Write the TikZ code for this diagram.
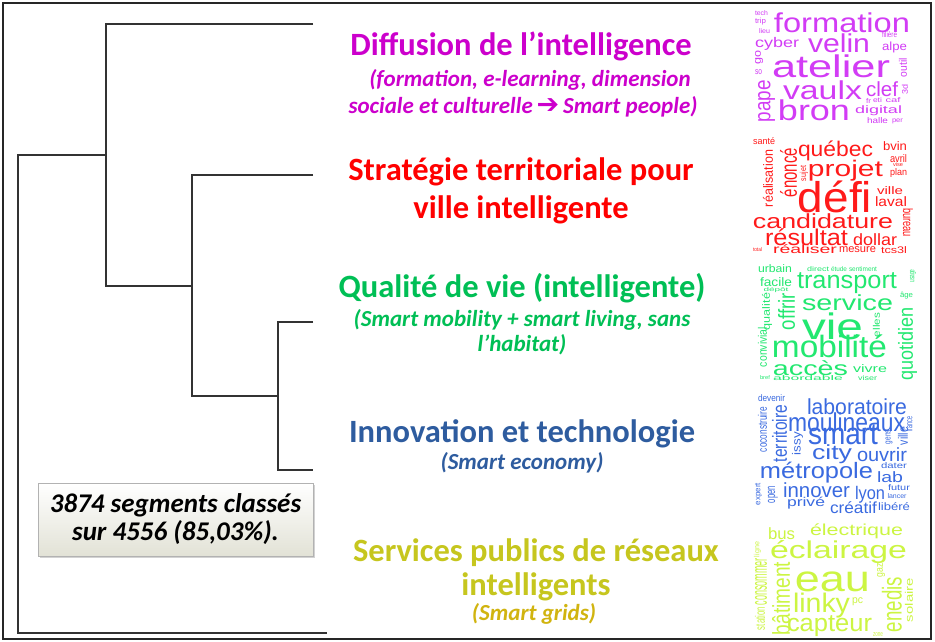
\documentclass[tikz,border=0pt]{standalone}
\usepackage{fontspec}
\usepackage{graphicx}
\usetikzlibrary{shadows}
\newfontfamily\calfont{Carlito}
\newfontfamily\cloudf{Liberation Sans}
\newfontfamily\symf{DejaVu Sans}
\definecolor{tmag}{HTML}{CC00CC}
\definecolor{tred}{HTML}{FF0000}
\definecolor{tgreen}{HTML}{00BF55}
\definecolor{tblue}{HTML}{2E5C9F}
\definecolor{tyel}{HTML}{C6C61E}
\definecolor{tgold}{HTML}{D1B40F}
\definecolor{cmag}{HTML}{D23CF5}
\definecolor{cred}{HTML}{FF1A1A}
\definecolor{cgreen}{HTML}{22E870}
\definecolor{cblue}{HTML}{3A6AE0}
\definecolor{cyel}{HTML}{CCF542}
\definecolor{boxbot}{HTML}{E2E2D6}
\newcommand{\wc}[7]{\node[inner sep=0pt,outer sep=0pt] (#1) at (#2,#3) {\resizebox*{#4pt}{#5pt}{\rotatebox{#6}{\cloudf #7}}};}
\begin{document}
\begin{tikzpicture}[x=1pt,y=-1pt,
  dendro/.style={line width=1.5pt,draw=black!80},
  title/.style={font=\calfont\bfseries\fontsize{32.5}{36}\selectfont,anchor=base,inner sep=0pt},
  subt/.style={font=\calfont\bfseries\itshape\fontsize{23}{26}\selectfont,anchor=base,inner sep=0pt},
  infobox/.style={draw=black!30,line width=0.6pt,top color=white,bottom color=boxbot,
     drop shadow={shadow xshift=2pt,shadow yshift=-2pt,fill=black!35},
     minimum width=275pt,minimum height=73pt,inner sep=0pt,align=center,
     font=\calfont\bfseries\itshape\fontsize{27}{28}\selectfont}]
\useasboundingbox (0,0) rectangle (935,641);
\fill[white] (0,0) rectangle (935,641);
\draw[line width=1.3pt,draw=black!85] (3,3) rectangle (931,639);

% dendrogram
\coordinate (L1) at (313,24);
\coordinate (L2) at (313,175);
\coordinate (L3) at (313,322);
\coordinate (L4) at (313,470);
\coordinate (L5) at (327,633);
\coordinate (N4) at (278,396);
\coordinate (N3) at (192,286);
\coordinate (N2) at (106,155);
\coordinate (N1) at (18,394);
\draw[dendro] (L1) -| (N2) |- (N3);
\draw[dendro] (L2) -| (N3) |- (N4);
\draw[dendro] (L3) -| (N4) |- (L4);
\draw[dendro] (N2) -| (N1) |- (L5);

% info box
\node[infobox] (info) at (175.5,519.5) {3874 segments classés\\sur 4556 (85,03\%).};

% class titles
\node[title,text=tmag] (t1) at (521,55) {Diffusion de l’intelligence};
\node[subt,text=tmag] (s1a) at (530,86) {(formation, e-learning, dimension};
\node[subt,text=tmag] (s1b) at (523,113) {sociale et culturelle\,{\symf\bfseries\fontsize{27}{27}\selectfont ➔}\,Smart people)};
\node[title,text=tred] (t2a) at (521,180) {Stratégie territoriale pour};
\node[title,text=tred] (t2b) at (521,218) {ville intelligente};
\node[title,text=tgreen] (t3) at (522,297) {Qualité de vie (intelligente)};
\node[subt,text=tgreen] (s3a) at (522,326) {(Smart mobility + smart living, sans};
\node[subt,text=tgreen] (s3b) at (522,351) {l’habitat)};
\node[title,text=tblue] (t4) at (522,442) {Innovation et technologie};
\node[subt,text=tblue] (s4) at (522,469) {(Smart economy)};
\node[title,text=tyel] (t5a) at (536,561) {Services publics de réseaux};
\node[title,text=tyel] (t5b) at (536,595) {intelligents};
\node[subt,text=tgold] (s5) at (534,620) {(Smart grids)};

% word cloud 1
\begin{scope}[text=cmag]
\wc{a1}{761.5}{13.5}{13}{5}{0}{tech}
\wc{a2}{760.5}{21.5}{11}{7}{0}{trip}
\wc{a3}{842}{23}{136}{20}{0}{formation}
\wc{a4}{764.5}{31}{11}{5}{0}{lieu}
\wc{a5}{777}{43.5}{44}{13}{0}{cyber}
\wc{a6}{839}{43.5}{62}{19}{0}{velin}
\wc{a7}{889.5}{35}{15}{6}{0}{filière}
\wc{a8}{894.5}{47.5}{25}{11}{0}{alpe}
\wc{a9}{759}{57}{8}{14}{90}{go}
\wc{a10}{831}{66.5}{118}{23}{0}{atelier}
\wc{a11}{903}{67.5}{8}{19}{90}{outil}
\wc{a12}{758.5}{72.5}{7}{5}{0}{so}
\wc{a13}{766.5}{101}{17}{42}{90}{pape}
\wc{a14}{822.5}{90.5}{79}{19}{0}{vaulx}
\wc{a15}{882}{89.5}{32}{15}{0}{clef}
\wc{a16}{905}{89}{6}{10}{90}{3d}
\wc{a17}{868.5}{100.5}{5}{5}{0}{fr}
\wc{a18}{877.5}{100.5}{9}{5}{0}{eti}
\wc{a19}{893}{100.5}{15}{5}{0}{caf}
\wc{a20}{814}{110.5}{72}{21}{0}{bron}
\wc{a21}{878.5}{111}{47}{10}{0}{digital}
\wc{a22}{877.5}{121}{21}{6}{0}{halle}
\wc{a23}{897.5}{121}{11}{5}{0}{per}
\end{scope}

% word cloud 2
\begin{scope}[text=cred]
\wc{b1}{764}{141.5}{22}{7}{0}{santé}
\wc{b2}{835.5}{151}{75}{20}{0}{québec}
\wc{b3}{895}{146.5}{24}{9}{0}{bvin}
\wc{b4}{768}{178.5}{10}{57}{90}{réalisation}
\wc{b5}{788.5}{172.5}{17}{49}{90}{énoncé}
\wc{b6}{898.5}{159}{17}{8}{0}{avril}
\wc{b7}{898}{165}{10}{4}{0}{vise}
\wc{b8}{898.5}{172.5}{17}{9}{0}{plan}
\wc{b9}{845.5}{170.5}{75}{21}{0}{projet}
\wc{b10}{804}{173.5}{8}{15}{90}{sujet}
\wc{b11}{835}{197}{74}{32}{0}{défi}
\wc{b12}{890}{191}{26}{8}{0}{ville}
\wc{b13}{891}{202}{32}{10}{0}{laval}
\wc{b14}{823}{221.5}{140}{15}{0}{candidature}
\wc{b15}{908}{222.5}{10}{29}{-90}{bureau}
\wc{b16}{806.5}{237.5}{83}{17}{0}{résultat}
\wc{b17}{875}{240}{44}{12}{0}{dollar}
\wc{b18}{757.5}{250}{9}{4}{0}{total}
\wc{b19}{805}{249.5}{64}{9}{0}{réaliser}
\wc{b20}{857.5}{250}{37}{6}{0}{mesure}
\wc{b21}{894}{250.5}{26}{7}{0}{tcs3l}
\end{scope}

% word cloud 3
\begin{scope}[text=cgreen]
\wc{g1}{775}{269}{34}{8}{0}{urbain}
\wc{g2}{818}{269.5}{22}{5}{0}{direct}
\wc{g3}{839}{269.5}{16}{5}{0}{étude}
\wc{g4}{863}{269.5}{28}{5}{0}{sentiment}
\wc{g5}{913}{276}{6}{13}{90}{usage}
\wc{g6}{776}{282.5}{32}{9}{0}{facile}
\wc{g7}{776}{290}{25}{5}{0}{dépôt}
\wc{g8}{847}{283.5}{100}{21}{0}{transport}
\wc{g9}{767}{311.5}{10}{37}{90}{qualité}
\wc{g10}{786.5}{311.5}{17}{37}{90}{offrir}
\wc{g11}{847.5}{303}{91}{16}{0}{service}
\wc{g12}{906.5}{295.5}{13}{7}{0}{âge}
\wc{g13}{907.5}{343.5}{19}{73}{90}{quotidien}
\wc{g14}{832.5}{326.5}{61}{27}{0}{vie}
\wc{g15}{876.5}{325}{7}{24}{90}{elles}
\wc{g16}{762.5}{347}{9}{40}{90}{convivial}
\wc{g17}{829.5}{346.5}{115}{23}{0}{mobilité}
\wc{g18}{810.5}{368.5}{75}{15}{0}{accès}
\wc{g19}{870}{369}{34}{8}{0}{vivre}
\wc{g20}{765}{377.5}{10}{4}{0}{bref}
\wc{g21}{808}{378.5}{70}{5}{0}{abordable}
\wc{g22}{867.5}{378.5}{19}{5}{0}{viser}
\end{scope}

% word cloud 4
\begin{scope}[text=cblue]
\wc{u1}{771.5}{398.5}{27}{7}{0}{devenir}
\wc{u2}{857}{407}{100}{16}{0}{laboratoire}
\wc{u3}{762.5}{429.5}{9}{45}{90}{coconstruire}
\wc{u4}{779.5}{433.5}{15}{57}{90}{territoire}
\wc{u5}{846.5}{422.5}{117}{19}{0}{moulineaux}
\wc{u6}{909}{424}{7}{15}{90}{france}
\wc{u7}{797.5}{443.5}{11}{23}{90}{issy}
\wc{u8}{843}{435}{70}{20}{0}{smart}
\wc{u9}{889}{437}{7}{14}{90}{gens}
\wc{u10}{903}{436}{10}{18}{90}{ville}
\wc{u11}{832}{454.5}{40}{19}{0}{city}
\wc{u12}{882}{455}{50}{14}{0}{ouvrir}
\wc{u13}{816.5}{472.5}{113}{21}{0}{métropole}
\wc{u14}{894}{466}{26}{6}{0}{dater}
\wc{u15}{890}{477}{26}{11}{0}{lab}
\wc{u16}{758.5}{494}{7}{22}{90}{expert}
\wc{u17}{773}{494.5}{10}{17}{90}{open}
\wc{u18}{816.5}{490.5}{67}{15}{0}{innover}
\wc{u19}{870}{494.5}{30}{17}{0}{lyon}
\wc{u20}{899}{488}{22}{6}{0}{futur}
\wc{u21}{897}{496}{19}{5}{0}{lancer}
\wc{u22}{806}{503}{38}{12}{0}{privé}
\wc{u23}{853.5}{508}{47}{12}{0}{créatif}
\wc{u24}{894}{507}{32}{8}{0}{libéré}
\end{scope}

% word cloud 5
\begin{scope}[text=cyel]
\wc{y1}{781.5}{534}{27}{12}{0}{bus}
\wc{y2}{856.5}{531.5}{93}{15}{0}{électrique}
\wc{y3}{757.5}{549.5}{7}{15}{90}{ligne}
\wc{y4}{838.5}{552.5}{137}{23}{0}{éclairage}
\wc{y5}{761}{581.5}{12}{47}{90}{consommer}
\wc{y6}{781}{598.5}{18}{73}{90}{bâtiment}
\wc{y7}{832.5}{582}{75}{20}{0}{eau}
\wc{y8}{881}{570}{8}{14}{90}{gaz}
\wc{y9}{892}{604.5}{20}{55}{90}{enedis}
\wc{y10}{909}{600}{8}{44}{90}{solaire}
\wc{y11}{821.5}{605.5}{57}{25}{0}{linky}
\wc{y12}{857.5}{602}{11}{8}{0}{pc}
\wc{y13}{760}{618.5}{10}{23}{90}{station}
\wc{y14}{829.5}{626.5}{85}{21}{0}{capteur}
\wc{y15}{878}{635}{10}{4}{0}{zone}
\end{scope}
\end{tikzpicture}
\end{document}
